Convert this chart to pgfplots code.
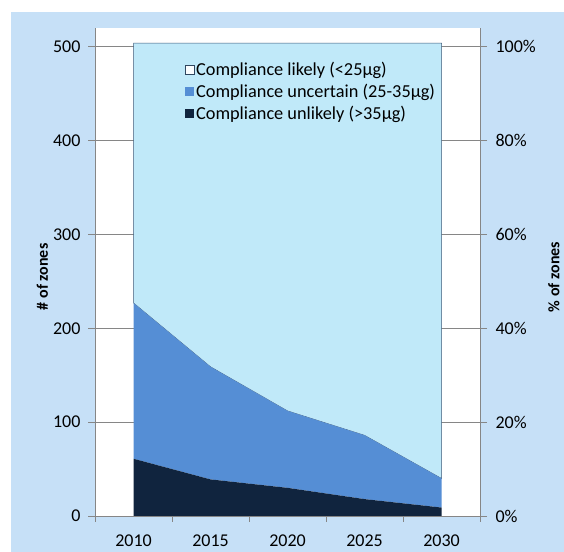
\documentclass[border=0pt]{standalone}
\usepackage{pgfplots}
\pgfplotsset{compat=1.18}
\usepackage{fontspec}
\setmainfont{Carlito}
\definecolor{bgblue}{HTML}{C6E0F7}
\definecolor{likelyc}{HTML}{C0E9F9}
\definecolor{uncertc}{HTML}{558ED5}
\definecolor{unlikelyc}{HTML}{10243E}
\definecolor{axgray}{HTML}{868686}
\definecolor{edgec}{HTML}{3B5878}
\begin{document}
\begin{tikzpicture}[x=1bp,y=1bp]
\path[use as bounding box] (0,0) rectangle (564,552);
\fill[bgblue] (11,0) rectangle (564,540);
\fill[white] (95,36) rectangle (480,524);
\begin{axis}[
  at={(95bp,36bp)}, anchor=south west,
  scale only axis, width=385bp, height=488bp,
  xmin=2007.5, xmax=2032.5, ymin=0, ymax=520,
  axis x line*=bottom, axis y line*=left,
  axis line style={axgray, line width=0.75bp, -},
  tick align=outside,
  xtick={2010,2015,2020,2025,2030},
  xticklabels={2010,2015,2020,2025,2030},
  major x tick style={draw=none},
  minor xtick={2007.5,2012.5,2017.5,2022.5,2027.5,2032.5},
  minor tick length=6bp, major tick length=7bp,
  every tick/.style={axgray, line width=0.75bp},
  ytick={0,100,200,300,400,500},
  ymajorgrids, grid style={axgray, line width=0.75bp},
  /pgf/number format/assume math mode=true,
  tick label style={font=\fontsize{18bp}{21bp}\selectfont},
  xticklabel style={yshift=-8bp},
  yticklabel style={xshift=-4bp},
  ylabel={\textbf{\# of zones}},
  ylabel style={at={(axis description cs:-0.137,0.49)}, anchor=center, font=\fontsize{16bp}{19bp}\selectfont},
  stack plots=y,
  reverse legend,
  legend cell align=left,
  legend style={draw=none, fill=none, at={(0.232,0.932)}, anchor=north west,
    font=\fontsize{18.3bp}{21bp}\selectfont, row sep=6bp, inner sep=0pt,
    nodes={inner xsep=2bp, inner ysep=0.5bp}},
]
\addplot[fill=unlikelyc, draw=none,
  legend image code/.code={\fill[unlikelyc] (0bp,-4.5bp) rectangle (9bp,4.5bp);}]
  coordinates {(2010,61) (2015,39) (2020,30) (2025,18) (2030,9)} \closedcycle;
\addlegendentry{Compliance unlikely (>35µg)}
\addplot[fill=uncertc, draw=none,
  legend image code/.code={\fill[uncertc] (0bp,-4.5bp) rectangle (9bp,4.5bp);}]
  coordinates {(2010,166) (2015,120) (2020,82) (2025,68) (2030,31)} \closedcycle;
\addlegendentry{Compliance uncertain (25-35µg)}
\addplot[fill=likelyc, draw=edgec, line width=0.5bp,
  legend image code/.code={\filldraw[fill=white!92!likelyc, draw=edgec!80!black, line width=0.6bp] (0bp,-4.5bp) rectangle (9bp,4.5bp);}]
  coordinates {(2010,277) (2015,345) (2020,392) (2025,418) (2030,464)} \closedcycle;
\addlegendentry{Compliance likely (<25µg)}
\end{axis}
\begin{axis}[
  at={(95bp,36bp)}, anchor=south west,
  scale only axis, width=385bp, height=488bp,
  xmin=2007.5, xmax=2032.5, ymin=0, ymax=104,
  axis x line=none, axis y line*=right,
  axis line style={axgray, line width=0.75bp, -},
  tick align=outside, major tick length=7bp,
  every tick/.style={axgray, line width=0.75bp},
  ytick={0,20,40,60,80,100},
  yticklabel={\pgfmathprintnumber{\tick}\%},
  /pgf/number format/assume math mode=true,
  tick label style={font=\fontsize{18bp}{21bp}\selectfont},
  yticklabel style={xshift=5bp},
  ylabel={\textbf{\% of zones}},
  ylabel style={at={(axis description cs:1.192,0.49)}, anchor=center, font=\fontsize{16bp}{19bp}\selectfont},
]
\end{axis}
\end{tikzpicture}
\end{document}
